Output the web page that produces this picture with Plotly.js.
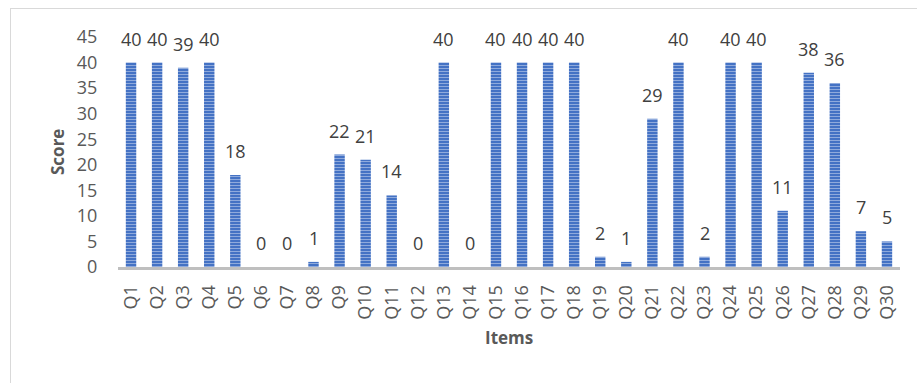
<!DOCTYPE html>
<html>
<head>
<meta charset="utf-8">
<script src="https://cdn.plot.ly/plotly-3.0.1.min.js"></script>
<style>
  html, body { margin: 0; padding: 0; background: #fff; }
  #frame { position: absolute; left: 10px; top: 8px; width: 907px; height: 375px;
           border-left: 1px solid #d9d9d9; border-top: 1px solid #d9d9d9; }
  #chart { position: absolute; left: 0; top: 0; width: 917px; height: 383px; }
</style>
</head>
<body>
<div id="frame"></div>
<div id="chart"></div>
<script>
const items = ["Q1","Q2","Q3","Q4","Q5","Q6","Q7","Q8","Q9","Q10","Q11","Q12","Q13","Q14","Q15",
               "Q16","Q17","Q18","Q19","Q20","Q21","Q22","Q23","Q24","Q25","Q26","Q27","Q28","Q29","Q30"];
const scores = [40,40,39,40,18,0,0,1,22,21,14,0,40,0,40,40,40,40,2,1,29,40,2,40,40,11,38,36,7,5];
const yTicks = [0,5,10,15,20,25,30,35,40,45];

const font = "Open Sans, sans-serif";
const data = [
  {
    type: "bar", x: items, y: scores, hoverinfo: "x+y",
    marker: { color: "#4472C4",
      pattern: { shape: "-", fgcolor: "#8FAADC", bgcolor: "#4472C4", size: 3, solidity: 0.35 },
      line: { width: 0 } },
    width: 0.4
  }
];
const labelAnnotations = items.map((q, i) => ({
  x: q, y: scores[i], xref: "x", yref: "y", text: String(scores[i]),
  showarrow: false, yanchor: "bottom", yshift: 10,
  font: { family: font, size: 18, color: "#404040" }
}));
const titleAnnotations = [
  { text: "<b>Score</b>", xref: "paper", yref: "paper", x: -0.078, y: 0.5, textangle: -90,
    showarrow: false, xanchor: "center", yanchor: "middle",
    font: { family: font, size: 17, color: "#595959" } },
  { text: "<b>Items</b>", xref: "paper", yref: "paper", x: 0.5, y: -0.308,
    showarrow: false, xanchor: "center", yanchor: "middle",
    font: { family: font, size: 17, color: "#595959" } }
];
const layout = {
  width: 917, height: 383,
  margin: { l: 118, r: 17, t: 37, b: 116 },
  paper_bgcolor: "rgba(0,0,0,0)", plot_bgcolor: "rgba(0,0,0,0)",
  showlegend: false,
  font: { family: font, color: "#595959" },
  annotations: labelAnnotations.concat(titleAnnotations),
  xaxis: {
    type: "category", range: [-0.5, 29.5], tickangle: -90, showgrid: false, zeroline: false,
    showline: true, linecolor: "#BFBFBF", linewidth: 3,
    ticks: "outside", ticklen: 8, tickcolor: "rgba(0,0,0,0)", automargin: false,
    tickfont: { family: font, size: 18, color: "#595959" }
  },
  yaxis: {
    range: [0, 45], tickvals: yTicks, showgrid: false, zeroline: false, showline: false,
    ticks: "outside", ticklen: 16, tickcolor: "rgba(0,0,0,0)", automargin: false,
    tickfont: { family: font, size: 18, color: "#595959" }
  }
};
Plotly.newPlot("chart", data, layout, { displayModeBar: false, staticPlot: true });
</script>
</body>
</html>
